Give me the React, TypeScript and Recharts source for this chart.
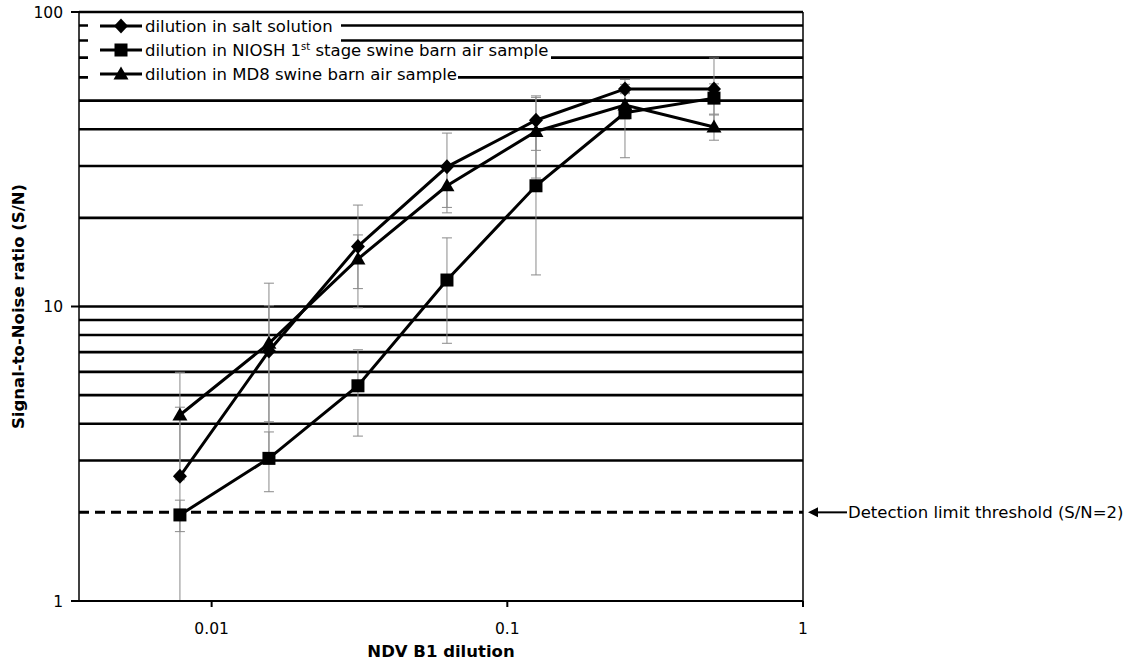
import React from 'react';
import { LineChart, Line, XAxis, YAxis, ReferenceLine, ErrorBar, Label } from 'recharts';

// NDV B1 dilution steps (1/128 ... 1/2)
const dilutions = [1 / 128, 1 / 64, 1 / 32, 1 / 16, 1 / 8, 1 / 4, 1 / 2];

// S/N ratio
const saltSolution = [2.65, 7.06, 16.0, 29.8, 42.9, 54.8, 54.8];
const saltErr = [1.9, 3.0, 6.1, 9.0, 9.0, 2.0, 15.0];
const nioshSample = [1.96, 3.05, 5.38, 12.3, 25.7, 45.5, 51.0];
const nioshErr = [0.24, 0.7, 1.75, 4.8, 12.9, 13.5, 6.0];
const md8Sample = [4.28, 7.5, 14.5, 25.7, 39.3, 48.3, 40.7];
const md8Err = [1.7, 4.5, 3.0, 4.0, 12.0, 5.0, 4.0];

const xTicks = [0.01, 0.1, 1];
const yTicks = [1, 10, 100];
const gridLevels = [3, 4, 5, 6, 7, 8, 9, 10, 20, 30, 40, 50, 60, 70, 80, 90, 100];
const threshold = 2;

const FONT = '"DejaVu Sans", Verdana, sans-serif';
const Y_MIN = 1;

// error bars are cut at the bottom of the log axis
const bar = (v: number, e: number) => [Math.min(e, v - Y_MIN), e];

const data = dilutions.map((x, i) => ({
  x,
  salt: saltSolution[i],
  saltErr: bar(saltSolution[i], saltErr[i]),
  niosh: nioshSample[i],
  nioshErr: bar(nioshSample[i], nioshErr[i]),
  md8: md8Sample[i],
  md8Err: bar(md8Sample[i], md8Err[i]),
}));

type Shape = 'diamond' | 'square' | 'triangle';

function Marker({ shape, cx, cy }: { shape: Shape; cx: number; cy: number }) {
  if (shape === 'diamond') {
    return <polygon points={`${cx},${cy - 7.5} ${cx + 7},${cy} ${cx},${cy + 7.5} ${cx - 7},${cy}`} fill="#000" />;
  }
  if (shape === 'square') {
    return <rect x={cx - 6.5} y={cy - 6.5} width={13} height={13} fill="#000" />;
  }
  return <polygon points={`${cx},${cy - 7.5} ${cx + 7.5},${cy + 5.5} ${cx - 7.5},${cy + 5.5}`} fill="#000" />;
}

const dotFor = (shape: Shape) => (p: any) => (
  <Marker key={`${shape}-${p.index}`} shape={shape} cx={p.cx} cy={p.cy} />
);

function ThresholdLabel(props: any) {
  const { x, y, width } = props.viewBox;
  const r = x + width;
  return (
    <g>
      <line x1={r + 12} y1={y} x2={r + 44} y2={y} stroke="#000" strokeWidth={2} />
      <polygon points={`${r + 5},${y} ${r + 15},${y - 5} ${r + 15},${y + 5}`} fill="#000" />
      <text x={r + 45} y={y} dominantBaseline="central" fontFamily={FONT} fontSize={16.5} fill="#000">
        Detection limit threshold (S/N=2)
      </text>
    </g>
  );
}

function YTitle(props: any) {
  const { y, height } = props.viewBox;
  const cy = y + height / 2;
  return (
    <text
      x={18}
      y={cy}
      transform={`rotate(-90 18 ${cy})`}
      textAnchor="middle"
      dominantBaseline="central"
      fontFamily={FONT}
      fontWeight="bold"
      fontSize={16.5}
      fill="#000"
    >
      Signal-to-Noise ratio (S/N)
    </text>
  );
}

const legendRows: { label: React.ReactNode; shape: Shape; top: number; height: number; center: number; padRight: number }[] = [
  { label: 'dilution in salt solution', shape: 'diamond', top: 14, height: 30, center: 26, padRight: 8 },
  {
    label: (
      <>
        dilution in NIOSH 1<sup style={{ fontSize: 10, verticalAlign: 'super', lineHeight: 0 }}>st</sup> stage swine barn air sample
      </>
    ),
    shape: 'square',
    top: 44,
    height: 19,
    center: 50,
    padRight: 2,
  },
  { label: 'dilution in MD8 swine barn air sample', shape: 'triangle', top: 63, height: 24, center: 74, padRight: 1 },
];

function LegendBox() {
  return (
    <>
      {legendRows.map((row) => (
        <div
          key={row.shape}
          style={{
            position: 'absolute',
            left: 88,
            top: row.top,
            height: row.height,
            background: '#fff',
            paddingRight: row.padRight,
          }}
        >
          <div
            style={{
              position: 'relative',
              top: row.center - row.top - 11,
              height: 22,
              display: 'flex',
              alignItems: 'center',
              whiteSpace: 'nowrap',
              fontFamily: FONT,
              fontSize: 16.5,
              color: '#000',
            }}
          >
            <svg width={54} height={22} style={{ flex: 'none' }}>
              <line x1={12} y1={11} x2={54} y2={11} stroke="#000" strokeWidth={3} />
              <Marker shape={row.shape} cx={33} cy={11} />
            </svg>
            <span style={{ marginLeft: 3 }}>{row.label}</span>
          </div>
        </div>
      ))}
    </>
  );
}

export default function App() {
  return (
    <div style={{ position: 'absolute', left: 0, top: 0, width: 1133, height: 663, background: '#fff' }}>
      <LineChart width={1133} height={663} data={data} margin={{ top: 12, right: 330, bottom: 0, left: 0 }}>
        <XAxis
          dataKey="x"
          type="number"
          scale="log"
          domain={[0.00356, 1]}
          ticks={xTicks}
          allowDataOverflow
          height={62}
          tickSize={6}
          tickMargin={16}
          axisLine={{ stroke: '#000', strokeWidth: 2.2 }}
          tickLine={{ stroke: '#000', strokeWidth: 2 }}
          tick={{ fill: '#000', fontSize: 15.5, fontFamily: FONT }}
          tickFormatter={(v: number) => String(v)}
        >
          <Label value="NDV B1 dilution" position="insideBottom" offset={6} style={{ fontFamily: FONT, fontWeight: 'bold', fontSize: 16.5, fill: '#000' }} />
        </XAxis>
        <YAxis
          type="number"
          scale="log"
          domain={[Y_MIN, 100]}
          ticks={yTicks}
          allowDataOverflow
          width={79}
          tickSize={8}
          tickMargin={8}
          axisLine={{ stroke: '#000', strokeWidth: 1.5 }}
          tickLine={{ stroke: '#000', strokeWidth: 2 }}
          tick={{ fill: '#000', fontSize: 15.5, fontFamily: FONT }}
        >
          <Label content={<YTitle />} />
        </YAxis>

        {gridLevels.map((v) => (
          <ReferenceLine key={v} y={v} stroke="#000" strokeWidth={2.6} />
        ))}
        <ReferenceLine x={1} stroke="#000" strokeWidth={1.5} />
        <ReferenceLine y={threshold} stroke="#000" strokeWidth={3} strokeDasharray="10 6" label={<ThresholdLabel />} />

        <Line dataKey="salt" stroke="#000" strokeWidth={3} dot={dotFor('diamond')} activeDot={false} isAnimationActive={false}>
          <ErrorBar dataKey="saltErr" direction="y" width={5} stroke="#8a8a8a" strokeWidth={1} />
        </Line>
        <Line dataKey="niosh" stroke="#000" strokeWidth={3} dot={dotFor('square')} activeDot={false} isAnimationActive={false}>
          <ErrorBar dataKey="nioshErr" direction="y" width={5} stroke="#8a8a8a" strokeWidth={1} />
        </Line>
        <Line dataKey="md8" stroke="#000" strokeWidth={3} dot={dotFor('triangle')} activeDot={false} isAnimationActive={false}>
          <ErrorBar dataKey="md8Err" direction="y" width={5} stroke="#8a8a8a" strokeWidth={1} />
        </Line>
      </LineChart>
      <LegendBox />
    </div>
  );
}
